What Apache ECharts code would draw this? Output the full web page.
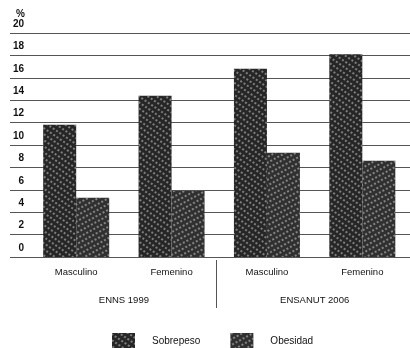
<!DOCTYPE html>
<html>
<head>
<meta charset="utf-8">
<script src="https://cdn.jsdelivr.net/npm/echarts@6/dist/echarts.min.js"></script>
<style>html,body{margin:0;padding:0;background:#fff;}#c{width:410px;height:348px;}</style>
</head>
<body>
<div id="c"></div>
<script>
const categories = ['Masculino', 'Femenino', 'Masculino', 'Femenino'];
const surveys = ['ENNS 1999', 'ENSANUT 2006'];
const seriesNames = ['Sobrepeso', 'Obesidad'];
const sobrepeso = [11.8, 14.4, 16.8, 18.1];
const obesidad = [5.3, 5.9, 9.3, 8.6];
const yMin = 0, yMax = 20, yStep = 2;

const FONT = '"Liberation Sans", "DejaVu Sans", sans-serif';
const chart = echarts.init(document.getElementById('c'), null, {renderer: 'canvas'});

function decal(rot) {
  return {
    symbol: 'rect', symbolSize: 1, color: 'rgba(255,255,255,0.4)',
    dashArrayX: [2, 2], dashArrayY: [2, 3], rotation: rot
  };
}

const option = {
  backgroundColor: '#fff',
  animation: false,
  grid: [
    {left: 10, right: 0, top: 33, bottom: 91},
    {left: 28.5, right: -6.5, top: 33, bottom: 91}
  ],
  xAxis: [
    {gridIndex: 0, type: 'value', min: 0, max: 1, show: false},
    {gridIndex: 1, type: 'category', data: categories, position: 'bottom',
     axisLine: {show: false}, axisTick: {show: false},
     axisLabel: {margin: 10, fontSize: 9.5, color: '#111', fontFamily: FONT}},
    {gridIndex: 1, type: 'category', data: surveys, position: 'bottom',
     axisLine: {show: false}, axisTick: {show: false},
     axisLabel: {margin: 38, fontSize: 9.5, color: '#111', fontFamily: FONT}}
  ],
  yAxis: [
    {gridIndex: 0, type: 'value', min: yMin, max: yMax, interval: yStep,
     name: '%', nameLocation: 'end', nameGap: 14,
     nameTextStyle: {align: 'left', padding: [0, 0, 0, 6], fontSize: 10, fontWeight: 'bold', color: '#111', fontFamily: FONT},
     axisLine: {show: false}, axisTick: {show: false},
     axisLabel: {inside: true, margin: 14, align: 'right', verticalAlign: 'bottom', padding: [0, 0, 4, 0],
                 fontSize: 10, fontWeight: 'bold', color: '#111', fontFamily: FONT},
     splitLine: {show: true, lineStyle: {color: '#555', width: 1}}},
    {gridIndex: 1, type: 'value', min: yMin, max: yMax, show: false}
  ],
  legend: {
    left: 107, top: 328, itemWidth: 23, itemHeight: 17, itemGap: 30,
    icon: 'rect',
    textStyle: {fontSize: 10, color: '#111', fontFamily: FONT, padding: [0, 0, 0, 12]},
    data: seriesNames
  },
  series: [
    {name: seriesNames[0], type: 'bar', xAxisIndex: 1, yAxisIndex: 1, data: sobrepeso,
     barWidth: 33, barGap: '0%',
     itemStyle: {color: '#262626', decal: decal(0.6)}},
    {name: seriesNames[1], type: 'bar', xAxisIndex: 1, yAxisIndex: 1, data: obesidad,
     barWidth: 33, barGap: '0%',
     itemStyle: {color: '#303030', decal: decal(-0.5)}}
  ]
};
chart.setOption(option);

// separator between survey groups, placed at the category boundary
const x1 = chart.convertToPixel({xAxisIndex: 1}, 1);
const x2 = chart.convertToPixel({xAxisIndex: 1}, 2);
const sepX = Math.round((x1 + x2) / 2) - 3 + 0.5;
const y0 = chart.convertToPixel({yAxisIndex: 1}, 0);
chart.setOption({
  graphic: [{type: 'line', silent: true,
    shape: {x1: sepX, y1: y0 + 3, x2: sepX, y2: y0 + 51},
    style: {stroke: '#555', lineWidth: 1}}]
});
</script>
</body>
</html>
